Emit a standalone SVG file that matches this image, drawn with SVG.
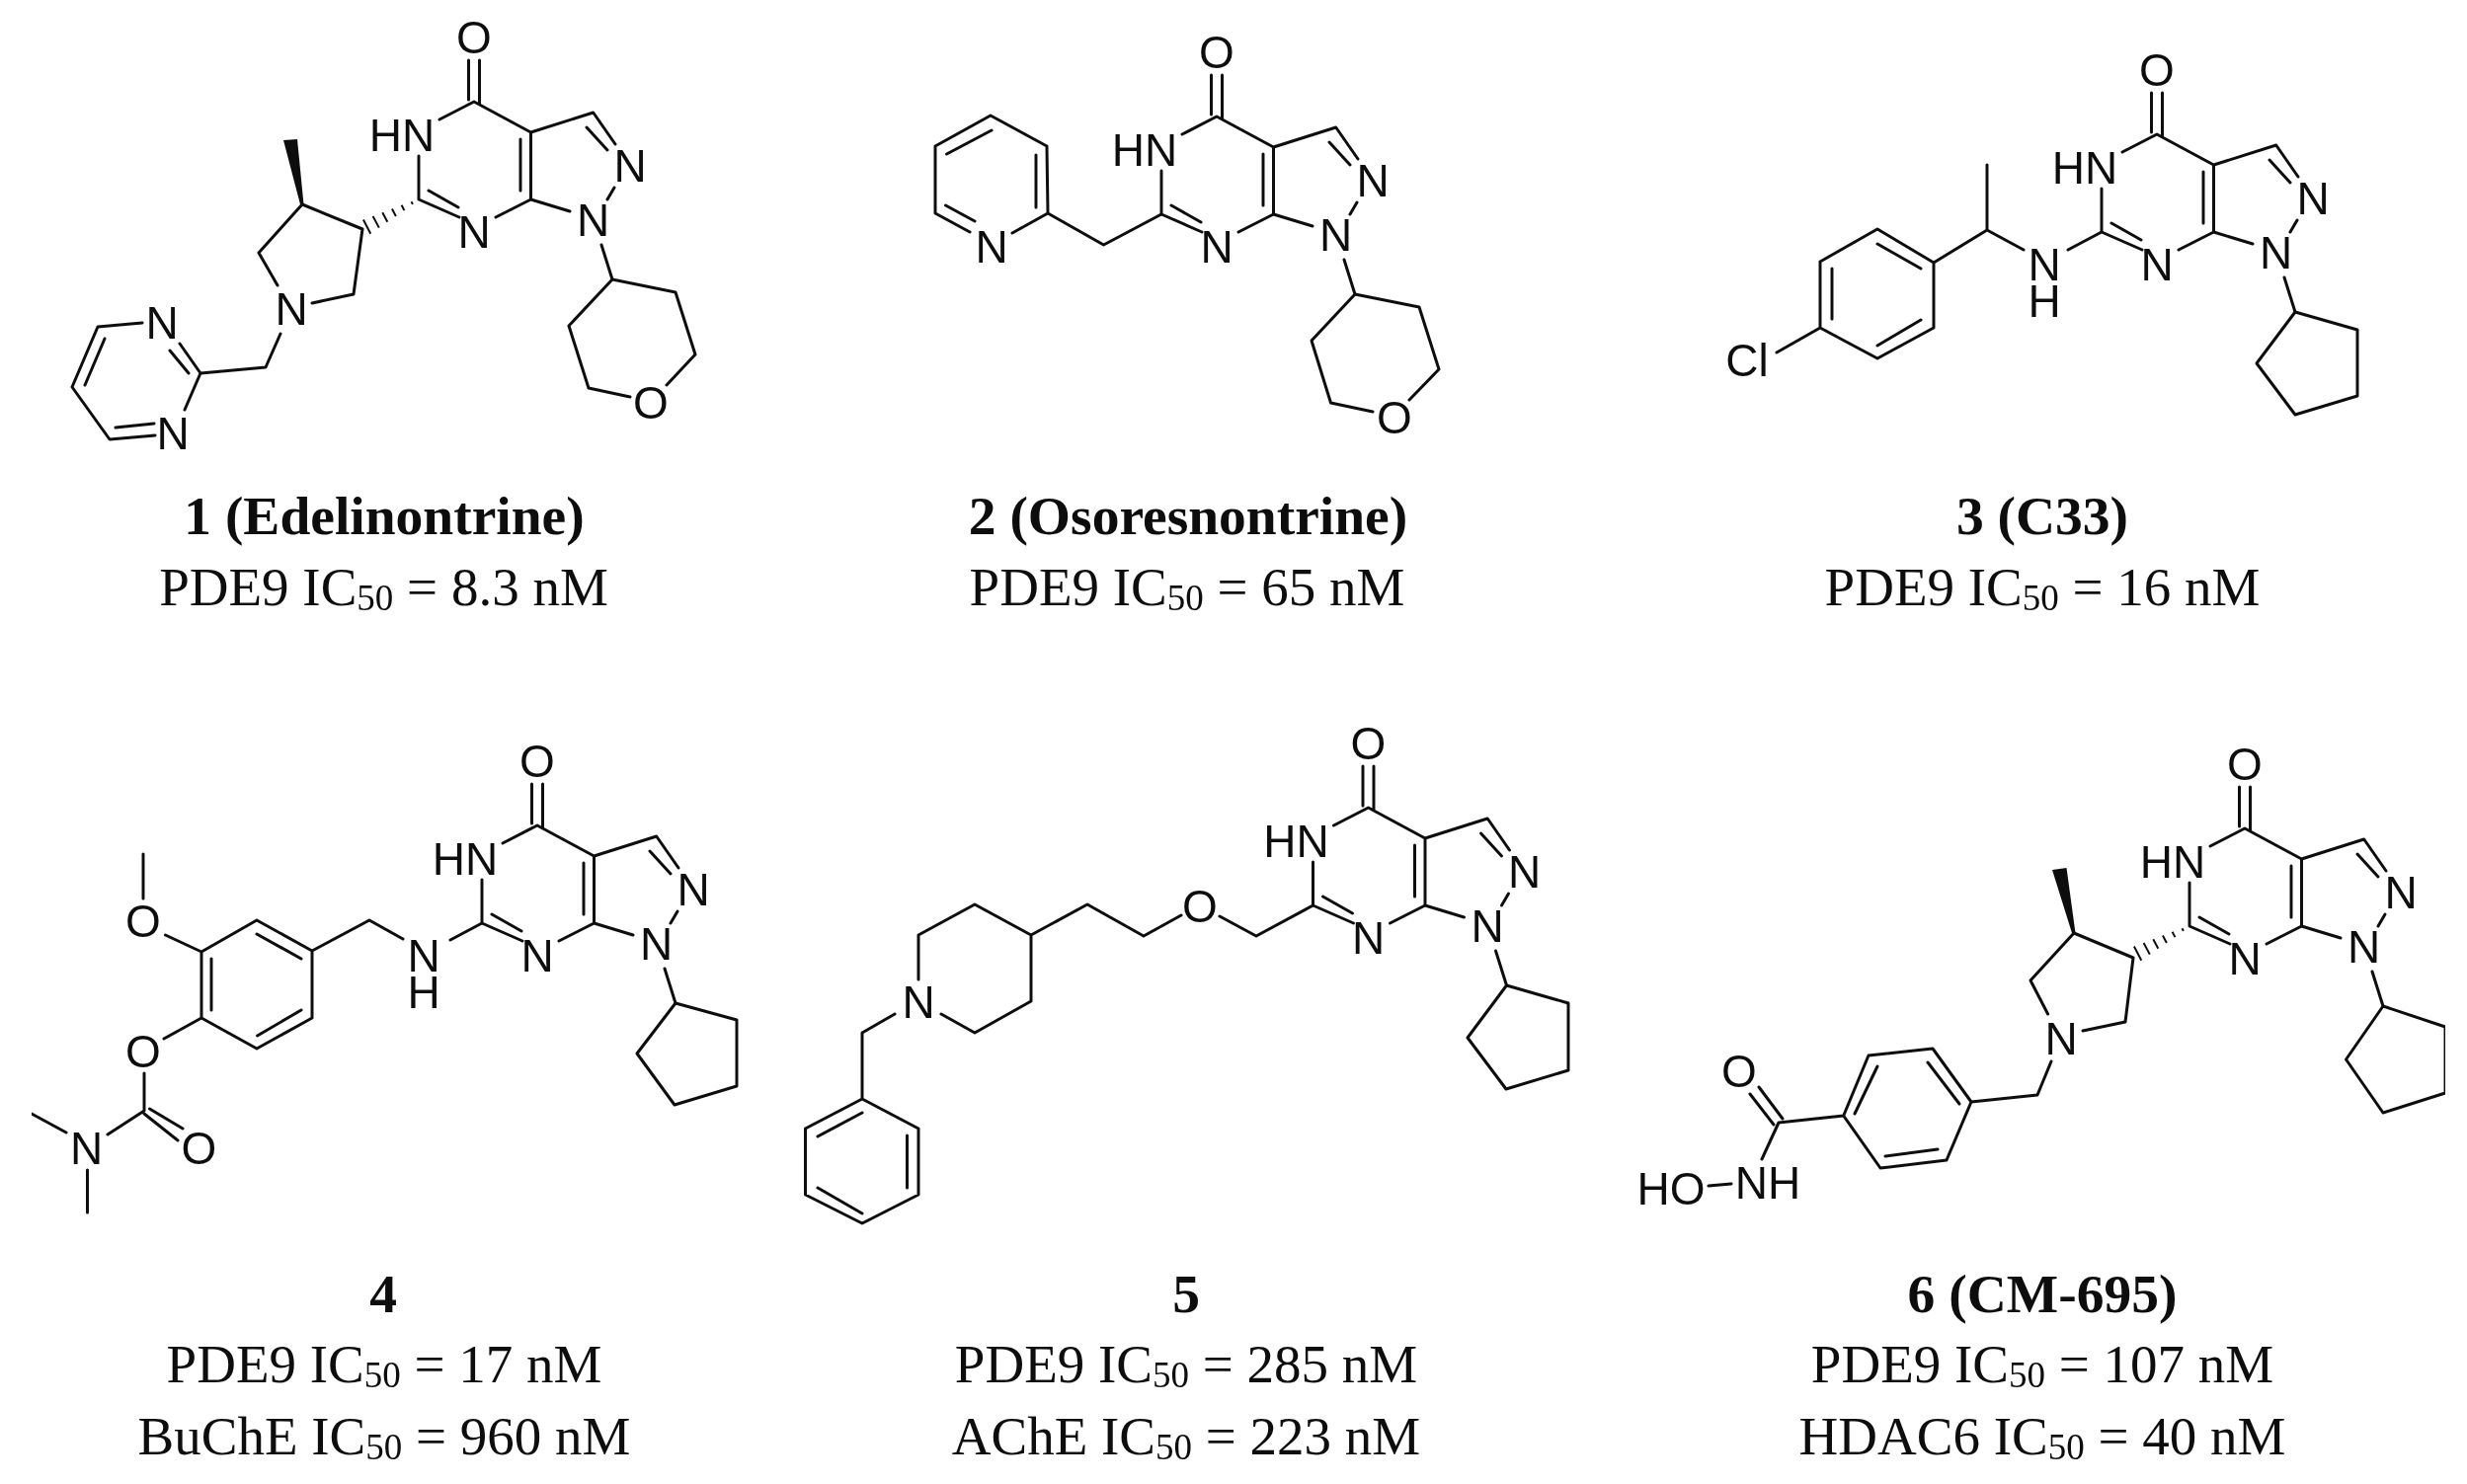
<svg xmlns="http://www.w3.org/2000/svg" width="2498" height="1503" viewBox="0 0 2498 1503">
<style>
.b{fill:none;stroke:#111;stroke-width:3;stroke-linecap:round;stroke-linejoin:round}
.h{fill:none;stroke:#111;stroke-width:2}
.w{fill:#111;stroke:none}
.a{font-family:"Liberation Sans",Arial,sans-serif;font-size:46px;text-anchor:middle;fill:#111}
.t{font-family:"Liberation Serif","Times New Roman",serif;font-size:55px;text-anchor:middle;fill:#111}
.n{font-weight:700;font-size:55.5px}
.s{font-size:37px}
</style>
<defs>
<filter id="soft" x="0" y="0" width="100%" height="100%"><feGaussianBlur stdDeviation="0.6"/></filter>
<path id="core" class="b" d="M-5.5-42V-2M5.5-42V2M-35 18L0 0L57.5 31V99L22 117M57.5 99L97 111M47 38V90M57.5 31L120.7 11L143 43M114 26L135 49M142 87L135 99M-56 55V99L-15 117M-46 90L-16 107M129 145L140 180"/>
<path id="hash" class="h" d="M-7.5 2.3L-6.1 4.9M-17.4 5.7L-14.6 11.1M-27.1 9.5L-23.1 16.9M-36.7 13.2L-31.7 22.8M-46.4 17L-40.2 28.6M-56.1 20.5L-48.7 34.7"/>
</defs>
<rect width="2498" height="1503" fill="#fff"/>
<g id="figure" filter="url(#soft)">

<g id="compound-1">
<use href="#core" x="480" y="103"/>
<g transform="translate(480 103)"><text class="a" y="-49">O</text><text class="a" x="-73" y="50">HN</text><text class="a" y="148">N</text><text class="a" x="158" y="81">N</text><text class="a" x="120.7" y="136">N</text></g>
<use href="#hash" x="424" y="202"/>
<polygon class="w" points="287,142 301,141 307.5,207 304,207"/>
<path class="b" d="M620 283L684 296L704 359L675 390M620 283L576 330L596 393L638 402M367 232L306 207L262 256L281 289M367 232L358 298L316 307M284 338L269 372L203 378L182 348M191 378L172 355M203 378L187 415M144 327L99 331L73 392L111 445L157 441M106 343L86 390M117 433L156 429"/>
<text class="a" x="659" y="424">O</text><text class="a" x="295" y="329">N</text><text class="a" x="164" y="343">N</text><text class="a" x="175" y="455">N</text>
<text class="t n" x="389" y="541">1 (Edelinontrine)</text>
<text class="t" x="388.5" y="613">PDE9 IC<tspan class="s" dy="5">50</tspan><tspan dy="-5"> = 8.3 nM</tspan></text>
</g>

<g id="compound-2">
<use href="#core" x="1232" y="118"/>
<g transform="translate(1232 118)"><text class="a" y="-49">O</text><text class="a" x="-73" y="50">HN</text><text class="a" y="148">N</text><text class="a" x="158" y="81">N</text><text class="a" x="120.7" y="136">N</text></g>
<path class="b" d="M1176 217L1117.5 248L1061 216L1025 236M1061 216L1060 148L1003 117L947 148V216L982 235M1049 157V210M958.6 156L1004 132M957.5 208L987 224M1372 298L1437 311L1457 374L1427 405M1372 298L1328 345L1347.5 408L1390 417"/>
<text class="a" x="1412" y="439">O</text><text class="a" x="1004" y="266">N</text>
<text class="t n" x="1203" y="541">2 (Osoresnontrine)</text>
<text class="t" x="1202" y="613">PDE9 IC<tspan class="s" dy="5">50</tspan><tspan dy="-5"> = 65 nM</tspan></text>
</g>

<g id="compound-3">
<use href="#core" x="2184" y="136"/>
<g transform="translate(2184 136)"><text class="a" y="-49">O</text><text class="a" x="-73" y="50">HN</text><text class="a" y="148">N</text><text class="a" x="158" y="81">N</text><text class="a" x="120.7" y="136">N</text></g>
<path class="b" d="M2128 235L2094 253M2049 253L2012 233V167M2012 233L1958 266L1901 232L1843 265V332L1901 363L1958 332V266M1901 247L1945 272M1855 272V323M1901 350L1945 324M1843 332L1799 357M2324 316L2387 334V401L2324 420L2285 368L2324 316"/>
<text class="a" x="2070" y="284">N<tspan x="2070" y="321">H</tspan></text><text class="a" x="1769" y="381">Cl</text>
<text class="t n" x="2068" y="541">3 (C33)</text>
<text class="t" x="2068" y="613">PDE9 IC<tspan class="s" dy="5">50</tspan><tspan dy="-5"> = 16 nM</tspan></text>
</g>

<g id="compound-4">
<use href="#core" x="544" y="836"/>
<g transform="translate(544 836)"><text class="a" y="-49">O</text><text class="a" x="-73" y="50">HN</text><text class="a" y="148">N</text><text class="a" x="158" y="81">N</text><text class="a" x="120.7" y="136">N</text></g>
<path class="b" d="M684 1016L746 1033V1100L683 1119L645 1067L684 1016M488 935L456 952M408 951L374 932L316 963L260 932L204 964V1031L260 1062L316 1031V963M260 946L305 971M214 971V1023M260.6 1049L305 1023M204 964L167.5 947M145 865V910M204 1031L166 1052M146 1087V1125L109 1149M151.5 1123L185 1143M146 1128L180 1155M32 1128L67 1147M88.5 1185V1228"/>
<text class="a" x="429" y="984">N<tspan x="429" y="1021">H</tspan></text><text class="a" x="145" y="949">O</text><text class="a" x="145" y="1081">O</text><text class="a" x="201.5" y="1179">O</text><text class="a" x="87.5" y="1179">N</text>
<text class="t n" x="388" y="1329">4</text>
<text class="t" x="389" y="1400">PDE9 IC<tspan class="s" dy="5">50</tspan><tspan dy="-5"> = 17 nM</tspan></text>
<text class="t" x="389" y="1473">BuChE IC<tspan class="s" dy="5">50</tspan><tspan dy="-5"> = 960 nM</tspan></text>
</g>

<g id="compound-5">
<use href="#core" x="1385.5" y="818"/>
<g transform="translate(1385.5 818)"><text class="a" y="-49">O</text><text class="a" x="-73" y="50">HN</text><text class="a" y="148">N</text><text class="a" x="158" y="81">N</text><text class="a" x="120.7" y="136">N</text></g>
<path class="b" d="M1525.5 998L1588 1016V1084L1525 1103L1486 1051L1525.5 998M1329.5 917L1272 948L1235 928M1196 927L1158 948L1101 916L1044 947L987 916L930 947V992M1044 947V1014L987 1046L953 1027M906 1027L873 1046V1113L930 1143V1210L873 1239L815.5 1210V1143L873 1113M873 1127L828 1151M918.5 1150V1203M828 1203L873 1229"/>
<text class="a" x="1215" y="934">O</text><text class="a" x="930" y="1031">N</text>
<text class="t n" x="1201" y="1329">5</text>
<text class="t" x="1201" y="1400">PDE9 IC<tspan class="s" dy="5">50</tspan><tspan dy="-5"> = 285 nM</tspan></text>
<text class="t" x="1201" y="1473">AChE IC<tspan class="s" dy="5">50</tspan><tspan dy="-5"> = 223 nM</tspan></text>
</g>

<g id="compound-6">
<use href="#core" x="2273" y="839"/>
<g transform="translate(2273 839)"><text class="a" y="-49">O</text><text class="a" x="-73" y="50">HN</text><text class="a" y="148">N</text><text class="a" x="158" y="81">N</text><text class="a" x="120.7" y="136">N</text></g>
<use href="#hash" x="2217" y="938"/>
<polygon class="w" points="2078,881 2092.5,879 2101.5,945 2098,945"/>
<path class="b" d="M2413 1019L2476 1040V1107L2413 1127L2375.5 1073L2413 1019M2160 970L2100 945L2056 993L2073.6 1027M2160 970L2152 1035L2109 1044M2077 1075L2063 1109L1996 1116L1957 1062L1892 1069L1866.7 1130L1904 1183L1971 1175L1996 1116M1952 1076L1984 1118M1901 1080L1878 1128M1909 1171L1962 1164M1866.7 1130L1801 1137L1784 1174M1781 1101L1805 1133M1772 1108L1796 1139M1730 1201L1753 1199"/>
<text class="a" x="2087" y="1068">N</text><text class="a" x="1761" y="1101">O</text><text class="a" x="1790" y="1214">NH</text><text class="a" x="1692" y="1220">HO</text>
<text class="t n" x="2068" y="1329">6 (CM-695)</text>
<text class="t" x="2068" y="1400">PDE9 IC<tspan class="s" dy="5">50</tspan><tspan dy="-5"> = 107 nM</tspan></text>
<text class="t" x="2068" y="1473">HDAC6 IC<tspan class="s" dy="5">50</tspan><tspan dy="-5"> = 40 nM</tspan></text>
</g>
</g>
</svg>
